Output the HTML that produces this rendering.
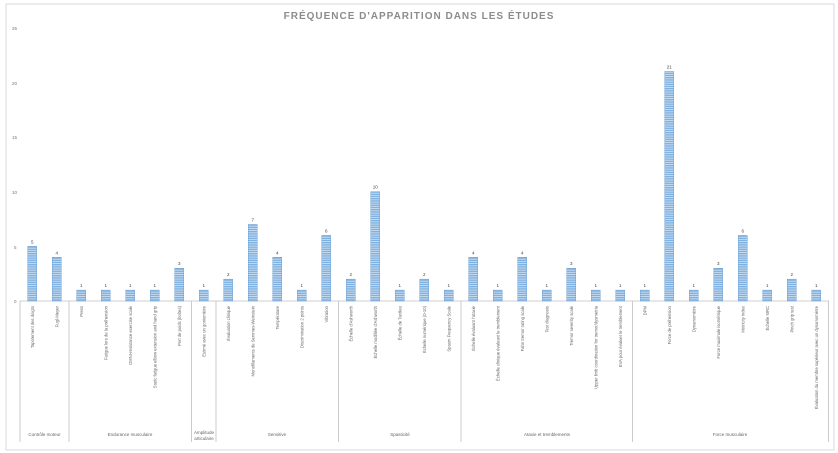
<!DOCTYPE html>
<html><head><meta charset="utf-8"><style>
html,body{margin:0;padding:0;background:#fff;width:838px;height:453px;overflow:hidden}
svg{display:block;font-family:"Liberation Sans",sans-serif}
</style></head><body>
<svg width="838" height="453" viewBox="0 0 838 453" xmlns="http://www.w3.org/2000/svg">
<defs>
<pattern id="st" width="4" height="2.2" patternUnits="userSpaceOnUse">
<rect width="4" height="2.2" fill="#7fb1e0"/><rect y="1.5" width="4" height="0.7" fill="#dceaf7"/>
</pattern>
</defs>
<rect x="6" y="4" width="828" height="446" fill="#fff" stroke="#d9d9d9" stroke-width="1"/>
<text x="419" y="19" text-anchor="middle" font-size="10" font-weight="bold" fill="#8c8c8c" letter-spacing="1">FRÉQUENCE D'APPARITION DANS LES ÉTUDES</text>
<g font-size="4.5" fill="#777">
<text x="12" y="30">25</text><text x="12" y="85">20</text><text x="12" y="139">15</text>
<text x="12" y="194">10</text><text x="14" y="249">5</text><text x="14" y="303">0</text>
</g>
<line x1="20" y1="301" x2="829" y2="301" stroke="#bfbfbf" stroke-width="0.8"/>
<g stroke="#bfbfbf" stroke-width="0.8">
<line x1="20" y1="301" x2="20" y2="442"/><line x1="69" y1="301" x2="69" y2="442"/>
<line x1="191.5" y1="301" x2="191.5" y2="442"/><line x1="216" y1="301" x2="216" y2="442"/>
<line x1="338.5" y1="301" x2="338.5" y2="442"/><line x1="461" y1="301" x2="461" y2="442"/>
<line x1="632.5" y1="301" x2="632.5" y2="442"/><line x1="828.5" y1="301" x2="828.5" y2="442"/>
</g>
<g fill="url(#st)" stroke="#5b93cc" stroke-width="0.4">
<rect x="27.75" y="246.35" width="9" height="54.65"/>
<rect x="52.25" y="257.28" width="9" height="43.72"/>
<rect x="76.75" y="290.07" width="9" height="10.93"/>
<rect x="101.25" y="290.07" width="9" height="10.93"/>
<rect x="125.75" y="290.07" width="9" height="10.93"/>
<rect x="150.25" y="290.07" width="9" height="10.93"/>
<rect x="174.75" y="268.21" width="9" height="32.79"/>
<rect x="199.25" y="290.07" width="9" height="10.93"/>
<rect x="223.75" y="279.14" width="9" height="21.86"/>
<rect x="248.25" y="224.49" width="9" height="76.51"/>
<rect x="272.75" y="257.28" width="9" height="43.72"/>
<rect x="297.25" y="290.07" width="9" height="10.93"/>
<rect x="321.75" y="235.42" width="9" height="65.58"/>
<rect x="346.25" y="279.14" width="9" height="21.86"/>
<rect x="370.75" y="191.7" width="9" height="109.3"/>
<rect x="395.25" y="290.07" width="9" height="10.93"/>
<rect x="419.75" y="279.14" width="9" height="21.86"/>
<rect x="444.25" y="290.07" width="9" height="10.93"/>
<rect x="468.75" y="257.28" width="9" height="43.72"/>
<rect x="493.25" y="290.07" width="9" height="10.93"/>
<rect x="517.75" y="257.28" width="9" height="43.72"/>
<rect x="542.25" y="290.07" width="9" height="10.93"/>
<rect x="566.75" y="268.21" width="9" height="32.79"/>
<rect x="591.25" y="290.07" width="9" height="10.93"/>
<rect x="615.75" y="290.07" width="9" height="10.93"/>
<rect x="640.25" y="290.07" width="9" height="10.93"/>
<rect x="664.75" y="71.47" width="9" height="229.53"/>
<rect x="689.25" y="290.07" width="9" height="10.93"/>
<rect x="713.75" y="268.21" width="9" height="32.79"/>
<rect x="738.25" y="235.42" width="9" height="65.58"/>
<rect x="762.75" y="290.07" width="9" height="10.93"/>
<rect x="787.25" y="279.14" width="9" height="21.86"/>
<rect x="811.75" y="290.07" width="9" height="10.93"/>
</g>
<g font-size="4.5" text-anchor="middle" fill="#444">
<text x="32.25" y="243.4">5</text><text x="56.75" y="254.3">4</text><text x="81.25" y="287">1</text>
<text x="105.75" y="287">1</text><text x="130.25" y="287">1</text><text x="154.75" y="287">1</text>
<text x="179.25" y="265.2">3</text><text x="203.75" y="287">1</text><text x="228.25" y="276.1">2</text>
<text x="252.75" y="221.5">7</text><text x="277.25" y="254.3">4</text><text x="301.75" y="287">1</text>
<text x="326.25" y="232.4">6</text><text x="350.75" y="276.1">2</text><text x="375.25" y="188.7">10</text>
<text x="399.75" y="287">1</text><text x="424.25" y="276.1">2</text><text x="448.75" y="287">1</text>
<text x="473.25" y="254.3">4</text><text x="497.75" y="287">1</text><text x="522.25" y="254.3">4</text>
<text x="546.75" y="287">1</text><text x="571.25" y="265.2">3</text><text x="595.75" y="287">1</text>
<text x="620.25" y="287">1</text><text x="644.75" y="287">1</text><text x="669.25" y="68.5">21</text>
<text x="693.75" y="287">1</text><text x="718.25" y="265.2">3</text><text x="742.75" y="232.4">6</text>
<text x="767.25" y="287">1</text><text x="791.75" y="276.1">2</text><text x="816.25" y="287">1</text>
</g>
<g font-size="4.2" text-anchor="end" fill="#666">
<text transform="translate(33.75,306) rotate(-90)">Tapotement des doigts</text>
<text transform="translate(58.25,306) rotate(-90)">Fugl-Meyer</text>
<text transform="translate(82.75,306) rotate(-90)">Press</text>
<text transform="translate(107.25,306) rotate(-90)">Fatigue lors de la préhension</text>
<text transform="translate(131.75,306) rotate(-90)">OMNI-resistance exercise scale</text>
<text transform="translate(156.25,306) rotate(-90)">Static fatigue elbow extension and hand grip</text>
<text transform="translate(180.75,306) rotate(-90)">Port de poids (boîtes)</text>
<text transform="translate(205.25,306) rotate(-90)">Estimé avec un goniomètre</text>
<text transform="translate(229.75,306) rotate(-90)">Évaluation clinique</text>
<text transform="translate(254.25,306) rotate(-90)">Monofilaments de Semmes-Weinstein</text>
<text transform="translate(278.75,306) rotate(-90)">Température</text>
<text transform="translate(303.25,306) rotate(-90)">Discrimination 2 points</text>
<text transform="translate(327.75,306) rotate(-90)">Vibration</text>
<text transform="translate(352.25,306) rotate(-90)">Échelle d'Ashworth</text>
<text transform="translate(376.75,306) rotate(-90)">Échelle modifiée d'Ashworth</text>
<text transform="translate(401.25,306) rotate(-90)">Échelle de Tardieu</text>
<text transform="translate(425.75,306) rotate(-90)">Échelle numérique (0-10)</text>
<text transform="translate(450.25,306) rotate(-90)">Spasm Frequency Scale</text>
<text transform="translate(474.75,306) rotate(-90)">Échelle évaluant l'ataxie</text>
<text transform="translate(499.25,306) rotate(-90)">Échelle clinique évaluant le tremblement</text>
<text transform="translate(523.75,306) rotate(-90)">Fahn tremor rating scale</text>
<text transform="translate(548.25,306) rotate(-90)">Test diagnosis</text>
<text transform="translate(572.75,306) rotate(-90)">Tremor severity scale</text>
<text transform="translate(597.25,306) rotate(-90)">Upper limb coordination for tremor/dysmetria</text>
<text transform="translate(621.75,306) rotate(-90)">EVA pour évaluer le tremblement</text>
<text transform="translate(646.25,306) rotate(-90)">DPM</text>
<text transform="translate(670.75,306) rotate(-90)">Force de préhension</text>
<text transform="translate(695.25,306) rotate(-90)">Dynamomètre</text>
<text transform="translate(719.75,306) rotate(-90)">Force maximale isométrique</text>
<text transform="translate(744.25,306) rotate(-90)">Motricity index</text>
<text transform="translate(768.75,306) rotate(-90)">Échelle MRC</text>
<text transform="translate(793.25,306) rotate(-90)">Pinch grip test</text>
<text transform="translate(817.75,306) rotate(-90)">Évaluation du membre supérieur avec un dynamomètre</text>
</g>
<g font-size="4.5" fill="#666" text-anchor="middle">
<text x="44.5" y="436">Contrôle moteur</text>
<text x="130" y="436">Endurance musculaire</text>
<text x="204" y="434">Amplitude</text><text x="204" y="440">articulaire</text>
<text x="277" y="436">Sensitive</text>
<text x="400" y="436">Spasticité</text>
<text x="547" y="436">Ataxie et tremblements</text>
<text x="730" y="436">Force musculaire</text>
</g>
</svg>
</body></html>
